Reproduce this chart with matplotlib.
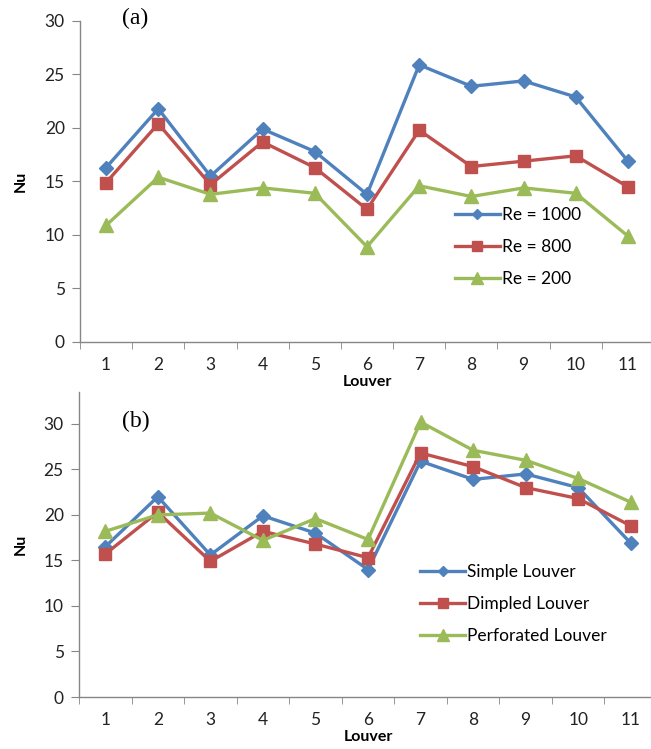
import matplotlib
matplotlib.use("Agg")
import matplotlib.pyplot as plt

louvers = [1, 2, 3, 4, 5, 6, 7, 8, 9, 10, 11]

# Panel (a)
re1000 = [16.3, 21.8, 15.5, 19.9, 17.8, 13.8, 25.9, 23.9, 24.4, 22.9, 16.9]
re800 = [14.9, 20.4, 14.7, 18.7, 16.3, 12.4, 19.8, 16.4, 16.9, 17.4, 14.5]
re200 = [10.9, 15.4, 13.8, 14.4, 13.9, 8.9, 14.6, 13.6, 14.4, 13.9, 9.9]

# Panel (b)
simple = [16.5, 22.0, 15.6, 19.9, 18.0, 14.0, 25.9, 23.9, 24.5, 23.0, 16.9]
dimpled = [15.7, 20.3, 14.9, 18.2, 16.8, 15.3, 26.8, 25.3, 23.0, 21.8, 18.8]
perforated = [18.2, 20.0, 20.2, 17.2, 19.6, 17.3, 30.2, 27.1, 26.0, 24.0, 21.4]

labels_a = ["Re = 1000", "Re = 800", "Re = 200"]
labels_b = ["Simple Louver", "Dimpled Louver", "Perforated Louver"]

BLUE = "#4F81BD"
RED = "#C0504D"
GREEN = "#9BBB59"
AX = "#868686"

plt.rcParams['font.family'] = ['Lato', 'DejaVu Sans']

W, H = 651, 749
fig = plt.figure(figsize=(W / 100, H / 100), dpi=100)


def px_axes(left, top, right, bottom):
    return fig.add_axes([left / W, 1 - bottom / H, (right - left) / W, (bottom - top) / H])


def style(ax, ymax, ticks, xlab_y, ylab_x):
    ax.set_xlim(0.5, 11.5)
    ax.set_ylim(0, ymax)
    ax.set_yticks(ticks)
    ax.set_xticks(louvers)
    ax.set_xticks([i + 0.5 for i in range(0, 12)], minor=True)
    for s in ["top", "right"]:
        ax.spines[s].set_visible(False)
    for s in ["left", "bottom"]:
        ax.spines[s].set_color(AX)
        ax.spines[s].set_linewidth(1.0)
    ax.tick_params(axis='x', which='major', length=0, pad=11, labelsize=12.5, colors='#222222')
    ax.tick_params(axis='x', which='minor', length=5, color=AX, direction='out')
    ax.tick_params(axis='y', which='major', length=6, color=AX, direction='out', labelsize=12.5,
                   pad=5, labelcolor='#222222')
    ax.set_xlabel("Louver", fontsize=11.5, fontweight='bold')
    ax.set_ylabel("Nu", fontsize=11.5, fontweight='bold', va='center')
    ax.xaxis.set_label_coords(0.5, xlab_y)
    ax.yaxis.set_label_coords(ylab_x, 0.5)


def plot_series(ax, ys, labels):
    kw = dict(linewidth=2.4)
    ax.plot(louvers, ys[0], color=BLUE, marker='D', markersize=7, label=labels[0], **kw)
    ax.plot(louvers, ys[1], color=RED, marker='s', markersize=9, label=labels[1], **kw)
    ax.plot(louvers, ys[2], color=GREEN, marker='^', markersize=10, label=labels[2], **kw)


def legend(ax, x, y):
    ax.legend(loc='upper left', bbox_to_anchor=(x, y), frameon=False,
              fontsize=12.5, handlelength=2.6, labelspacing=0.92, handletextpad=0.1,
              borderaxespad=0, borderpad=0, markerscale=0.8)


# Top panel
ax1 = px_axes(80, 21, 654, 342)
plot_series(ax1, [re1000, re800, re200], labels_a)
style(ax1, 30, range(0, 31, 5), -0.103, -0.103)
legend(ax1, 0.653, 0.42)
fig.text(122 / W, 1 - 18 / H, "(a)", fontsize=17, family='Liberation Serif', va='center')

# Bottom panel
ax2 = px_axes(79, 392, 657, 697)
plot_series(ax2, [simple, dimpled, perforated], labels_b)
style(ax2, 33.5, range(0, 31, 5), -0.108, -0.100)
legend(ax2, 0.59, 0.435)
fig.text(122 / W, 1 - 421 / H, "(b)", fontsize=17, family='Liberation Serif', va='center')

fig.savefig("out.png", dpi=100)
